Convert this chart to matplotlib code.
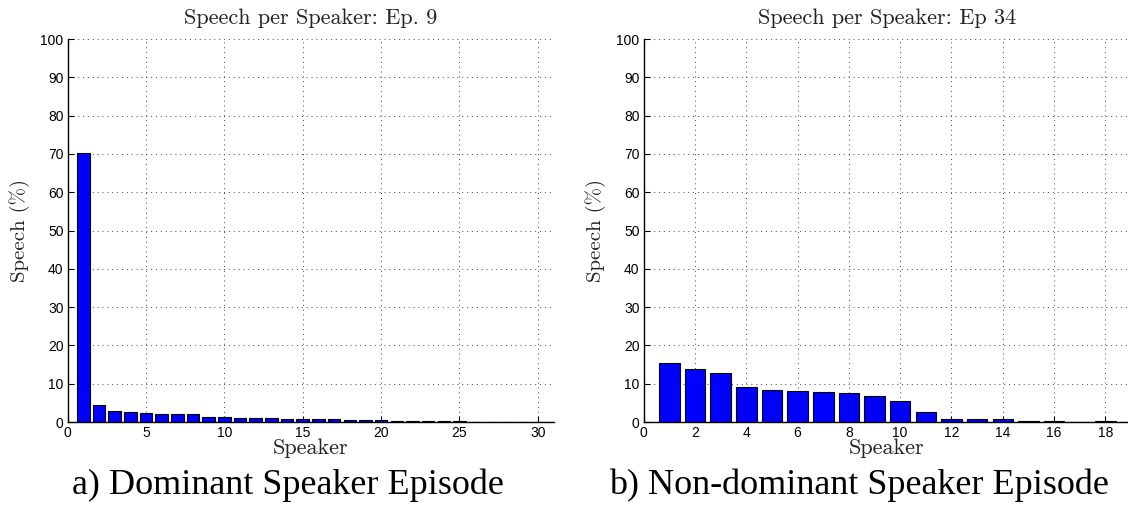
import matplotlib
matplotlib.use("Agg")
import matplotlib.pyplot as plt
import numpy as np

# ---- data ----
speakers_a = list(range(1, 32))
speech_a = [70.3, 4.5, 2.9, 2.55, 2.3, 2.2, 2.1, 2.1, 1.4, 1.2, 1.1, 1.1, 1.0,
            0.9, 0.9, 0.7, 0.7, 0.45, 0.4, 0.4, 0.3, 0.3, 0.25, 0.25, 0.15,
            0.1, 0.1, 0.1, 0.1, 0.1, 0.05]
speakers_b = list(range(1, 20))
speech_b = [15.4, 13.9, 12.7, 9.05, 8.3, 8.0, 7.8, 7.55, 6.9, 5.4, 2.7, 0.85,
            0.8, 0.7, 0.35, 0.3, 0.1, 0.15, 0.05]
xticks_a = [0, 5, 10, 15, 20, 25, 30]
xticks_b = [0, 2, 4, 6, 8, 10, 12, 14, 16, 18]
yticks = list(range(0, 101, 10))
titles = ["Speech per Speaker: Ep. 9", "Speech per Speaker: Ep 34"]
captions = ["a) Dominant Speaker Episode", "b) Non-dominant Speaker Episode"]

W, H = 1128, 507
fig = plt.figure(figsize=(W / 100, H / 100), dpi=100)

def px_ax(x0, y0, x1, y1):
    return fig.add_axes([x0 / W, 1 - y1 / H, (x1 - x0) / W, (y1 - y0) / H])

ax_a = px_ax(67.7, 39, 553.5, 422)
ax_b = px_ax(643.7, 39, 1130.0, 422)

serif = "cmr10"
for ax, xs, ys, xt, xmax, title in [
    (ax_a, speakers_a, speech_a, xticks_a, 31.0, titles[0]),
    (ax_b, speakers_b, speech_b, xticks_b, 18.96, titles[1]),
]:
    ax.bar(xs, ys, width=0.8, color="#0000ff", edgecolor="black", linewidth=0.8, zorder=3)
    ax.set_xlim(0, xmax)
    ax.set_ylim(0, 100)
    ax.set_xticks(xt)
    ax.set_yticks(yticks)
    ax.tick_params(direction="in", length=4, width=0.8, labelsize=10,
                   labelfontfamily="Liberation Sans", pad=3)
    ax.grid(True, linestyle=(0, (1, 4)), linewidth=0.7, color="#444444", zorder=0)
    for s in ["top", "right"]:
        ax.spines[s].set_visible(False)
    for s in ["left", "bottom"]:
        ax.spines[s].set_linewidth(1.0)
        ax.spines[s].set_zorder(4)
    ax.set_title(title, fontfamily=serif, fontsize=16, pad=11, color="#222222")
    ax.set_xlabel("Speaker", fontfamily=serif, fontsize=16, color="#222222")
    ax.xaxis.set_label_coords(0.5, -0.042)
    ax.set_ylabel("Speech (%)", fontfamily=serif, fontsize=15, color="#222222")
    ax.yaxis.label.set_verticalalignment("center")
    ax.yaxis.set_label_coords(-0.098, 0.5)

fig.text(288 / W, 1 - 485 / H, captions[0], fontfamily="Liberation Serif",
         fontsize=26, ha="center", va="center")
fig.text(859 / W, 1 - 485 / H, captions[1], fontfamily="Liberation Serif",
         fontsize=26, ha="center", va="center")

fig.savefig("out.png", dpi=100)
